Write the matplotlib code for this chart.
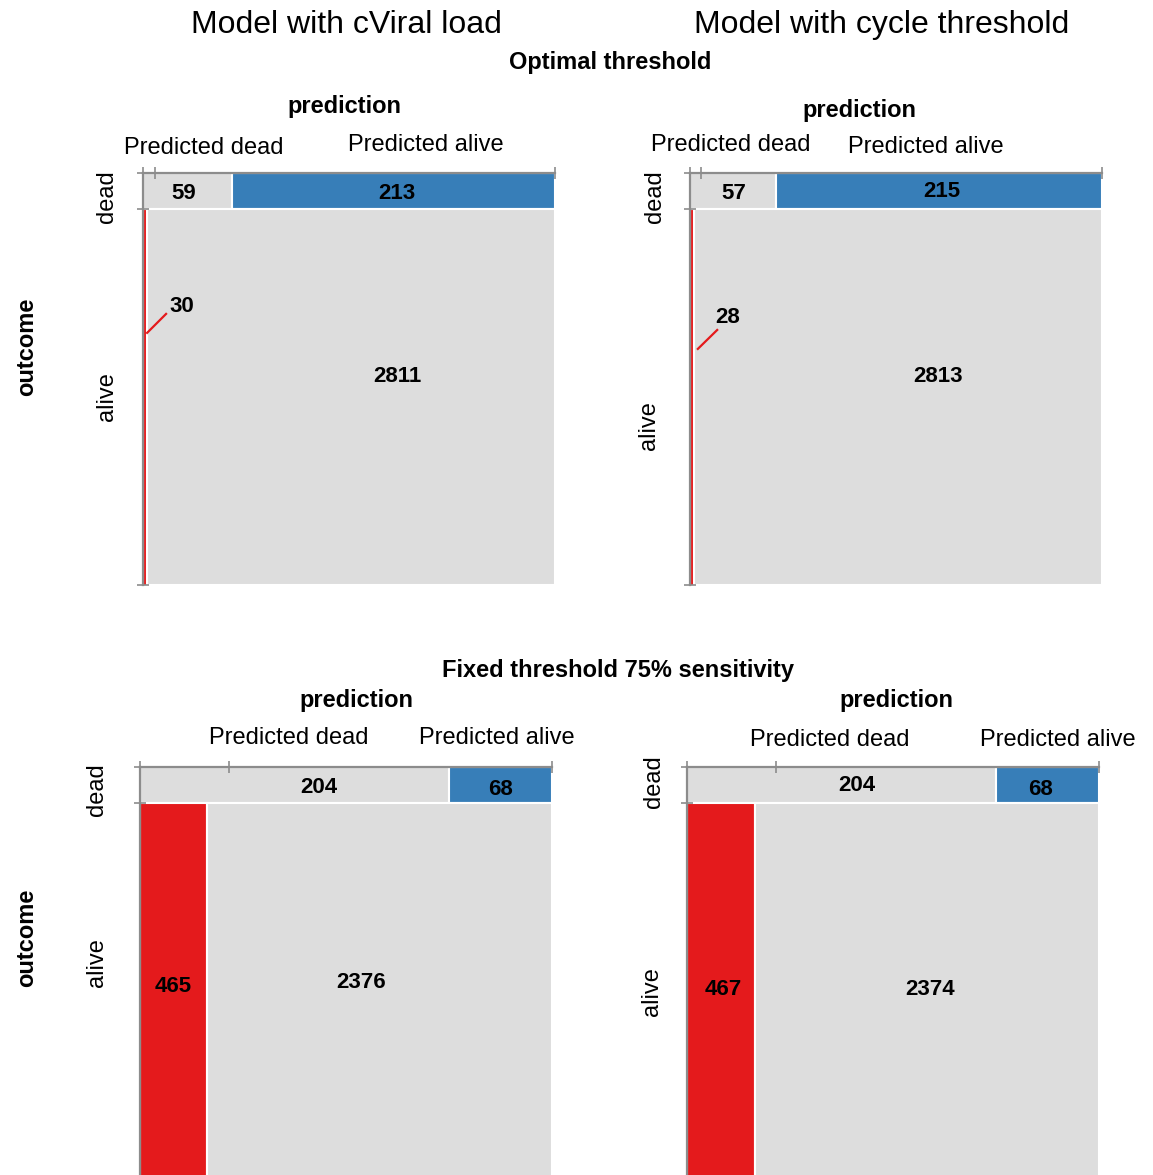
import matplotlib.pyplot as plt

plt.rcParams['font.family'] = ['Liberation Sans', 'DejaVu Sans']

W, H = 1153, 1175
fig = plt.figure(figsize=(W / 100, H / 100), dpi=100)

models = ['Model with cViral load', 'Model with cycle threshold']
thresholds = ['Optimal threshold', 'Fixed threshold 75% sensitivity']
pred_levels = ['Predicted dead', 'Predicted alive']
outcome_levels = ['dead', 'alive']

# confusion counts, indexed [threshold][model]
dead_pred_dead = [[59, 57], [204, 204]]
dead_pred_alive = [[213, 215], [68, 68]]
alive_pred_dead = [[30, 28], [465, 467]]
alive_pred_alive = [[2811, 2813], [2376, 2374]]

GREY = '#dddddd'
BLUE = '#377eb8'
RED = '#e41a1c'
AXC = '#8c8c8c'

# panel top-left corners in pixels, side length 412
corners = [[(143, 173), (690, 173)], [(140, 767), (687, 767)]]
SIDE = 412
NUDGE = 2  # text baseline nudge, px

# count label positions inside each panel (fraction of panel, y from top)
label_pos = [
    [[(0.100, 0.044), (0.617, 0.044), (0.095, 0.318), (0.617, 0.488)],
     [(0.107, 0.044), (0.612, 0.039), (0.092, 0.345), (0.602, 0.488)]],
    [[(0.434, 0.044), (0.874, 0.049), (0.080, 0.529), (0.536, 0.519)],
     [(0.413, 0.039), (0.857, 0.049), (0.087, 0.536), (0.590, 0.536)]],
]
# leader lines for the thin false-positive strips
leaders = {(0, 0): ((0.010, 0.388), (0.056, 0.342)),
           (0, 1): ((0.019, 0.427), (0.066, 0.381))}

# header positions in pixels: prediction, Predicted dead, Predicted alive, dead, alive
headers = [
    [[(344, 105), (204, 146), (426, 143), (105, 197), (105, 397)],
     [(859, 108), (731, 143), (926, 145), (653, 197), (647, 426)]],
    [[(356, 698), (289, 736), (497, 736), (95, 790), (95, 963)],
     [(896, 699), (830, 738), (1058, 738), (652, 782), (650, 992)]],
]


def ftext(x, y, s, **kw):
    dx = NUDGE if kw.get('rotation') == 90 else 0
    dy = 0 if kw.get('rotation') == 90 else NUDGE
    fig.text((x + dx) / W, 1 - (y + dy) / H, s, ha='center', va='center', **kw)


for r in range(2):
    for c in range(2):
        x0, y0 = corners[r][c]
        ax = fig.add_axes([x0 / W, 1 - (y0 + SIDE) / H, SIDE / W, SIDE / H])
        dd, da = dead_pred_dead[r][c], dead_pred_alive[r][c]
        ad, aa = alive_pred_dead[r][c], alive_pred_alive[r][c]
        n_dead, n_alive = dd + da, ad + aa
        total = n_dead + n_alive
        h_dead = n_dead / total

        # outcome rows, each split by prediction
        ax.barh(0, dd / n_dead, height=h_dead, left=0, align='edge',
                color=GREY, edgecolor='white', lw=1.5)
        ax.barh(0, da / n_dead, height=h_dead, left=dd / n_dead, align='edge',
                color=BLUE, edgecolor='white', lw=1.5)
        ax.barh(h_dead, ad / n_alive, height=1 - h_dead, left=0, align='edge',
                color=RED, edgecolor='white', lw=0.8 if ad / n_alive < 0.05 else 1.5)
        ax.barh(h_dead, aa / n_alive, height=1 - h_dead, left=ad / n_alive,
                align='edge', color=GREY, edgecolor='white', lw=1.5)

        ax.set_xlim(0, 1)
        ax.set_ylim(1, 0)
        ax.set_xticks([0, (dd + ad) / total, 1])
        ax.set_yticks([0, h_dead, 1])
        ax.set_xticklabels([])
        ax.set_yticklabels([])
        ax.xaxis.tick_top()
        ax.tick_params(direction='inout', length=8, width=1.2, color=AXC)
        for side in ['right', 'bottom']:
            ax.spines[side].set_visible(False)
        for side in ['top', 'left']:
            ax.spines[side].set_color(AXC)
            ax.spines[side].set_linewidth(1.6)
            ax.spines[side].set_zorder(5)
        ax.set_facecolor('none')

        counts = [dd, da, ad, aa]
        for (lx, ly), n in zip(label_pos[r][c], counts):
            ax.text(lx, ly + NUDGE / SIDE, str(n), ha='center', va='center',
                    fontsize=16, fontweight='bold', color='black', zorder=6)
        if (r, c) in leaders:
            (ax1, ay1), (ax2, ay2) = leaders[(r, c)]
            ax.plot([ax1, ax2], [ay1, ay2], color=RED, lw=1.6, zorder=6)

        hp = headers[r][c]
        ftext(*hp[0], 'prediction', fontsize=17, fontweight='bold')
        ftext(*hp[1], pred_levels[0], fontsize=17)
        ftext(*hp[2], pred_levels[1], fontsize=17)
        ftext(*hp[3], outcome_levels[0], fontsize=17, rotation=90)
        ftext(*hp[4], outcome_levels[1], fontsize=17, rotation=90)

ftext(346, 23, models[0], fontsize=23)
ftext(882, 23, models[1], fontsize=23)
ftext(610, 61, thresholds[0], fontsize=17, fontweight='bold')
ftext(618, 668, thresholds[1], fontsize=17, fontweight='bold')
ftext(25, 347, 'outcome', fontsize=17, fontweight='bold', rotation=90)
ftext(25, 938, 'outcome', fontsize=17, fontweight='bold', rotation=90)

fig.savefig('out.png', dpi=100)
